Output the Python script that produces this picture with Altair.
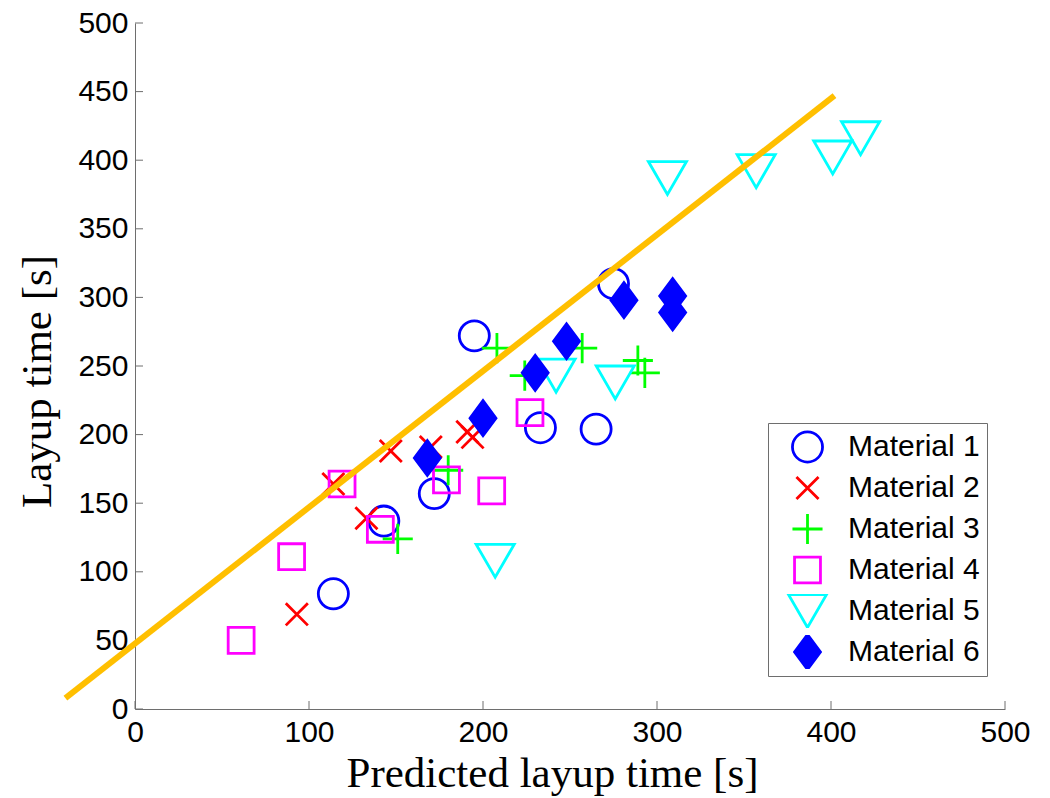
import altair as alt
import pandas as pd

materials = ["Material 1", "Material 2", "Material 3", "Material 4", "Material 5", "Material 6"]

m1_x = [114, 143, 172, 195, 233, 265, 275]
m1_y = [84, 137, 157, 272, 205, 204, 310]
m2_x = [93, 114, 133, 147, 170, 191, 194]
m2_y = [69, 164, 139, 188, 191, 202, 198]
m3_x = [151, 180, 208, 224, 257, 289, 293]
m3_y = [124, 174, 263, 243, 263, 254, 245]
m4_x = [61, 90, 119, 141, 179, 205, 227]
m4_y = [50, 111, 164, 131, 167, 159, 216]
m5_x = [207, 242, 276, 306, 357, 401, 417]
m5_y = [108, 243, 238, 387, 392, 402, 416]
m6_x = [168, 200, 230, 248, 281, 309, 309]
m6_y = [183, 212, 245, 268, 298, 301, 289]

fit_x = [-40, 402]
fit_y = [8, 447]

x_ticks = [0, 100, 200, 300, 400, 500]
y_ticks = [0, 50, 100, 150, 200, 250, 300, 350, 400, 450, 500]

rows = []
for name, xs_, ys_ in zip(materials, [m1_x, m2_x, m3_x, m4_x, m5_x, m6_x],
                          [m1_y, m2_y, m3_y, m4_y, m5_y, m6_y]):
    rows += [{"material": name, "x": a, "y": b} for a, b in zip(xs_, ys_)]
df = pd.DataFrame(rows)
fit_df = pd.DataFrame({"x": fit_x, "y": fit_y})

W, H = 870, 686
xsc = alt.Scale(domain=[0, 500], nice=False, zero=False)
ysc = alt.Scale(domain=[0, 500], nice=False, zero=False)

shapes = [
    "M-0.94,0A0.94,0.94,0,1,1,0.94,0A0.94,0.94,0,1,1,-0.94,0Z",
    "M-0.69,-0.69L0.69,0.69M-0.69,0.69L0.69,-0.69",
    "M-0.94,0L0.94,0M0,-0.94L0,0.94",
    "M-0.81,-0.81L0.81,-0.81L0.81,0.81L-0.81,0.81Z",
    "M-1.19,-1.03L1.19,-1.03L0,1.03Z",
    "M0,-1.09L0.81,0L0,1.09L-0.81,0Z",
]
colors = ["#0000ff", "#ff0000", "#00ff00", "#ff00ff", "#00ffff", "#0000ff"]
fills = ["transparent"] * 5 + ["#0000ff"]

legend = alt.Legend(
    title=None, orient="none", legendX=633, legendY=400,
    padding=7, symbolOffset=15, rowPadding=7, labelOffset=23, clipHeight=34,
    labelFont="Liberation Sans", labelFontSize=30, labelColor="black",
    symbolSize=1024, symbolStrokeWidth=2.8,
    strokeColor="#6e6e6e", fillColor="white",
)

points = alt.Chart(df).mark_point(filled=False, opacity=1, size=1024, strokeWidth=2.8).encode(
    x=alt.X("x:Q", scale=xsc, title="Predicted layup time [s]",
            axis=alt.Axis(values=x_ticks, titleX=417, titleY=77, titleBaseline="alphabetic",
                          labelFlush=False)),
    y=alt.Y("y:Q", scale=ysc, title="Layup time [s]",
            axis=alt.Axis(values=y_ticks, titleX=-85, titleY=358, titleBaseline="alphabetic",
                          labelFlush=False)),
    stroke=alt.Stroke("material:N", scale=alt.Scale(domain=materials, range=colors), legend=legend),
    fill=alt.Fill("material:N", scale=alt.Scale(domain=materials, range=fills), legend=legend),
    shape=alt.Shape("material:N", scale=alt.Scale(domain=materials, range=shapes), legend=legend),
)

line = alt.Chart(fit_df).mark_line(color="#ffbf00", strokeWidth=6, clip=False).encode(
    x=alt.X("x:Q", scale=xsc),
    y=alt.Y("y:Q", scale=ysc),
)

xt = alt.Chart(pd.DataFrame({"t": x_ticks})).mark_rule(color="#6e6e6e", strokeWidth=1).encode(
    x=alt.X("t:Q", scale=xsc), y=alt.value(H), y2=alt.value(H - 8)
)
yt = alt.Chart(pd.DataFrame({"t": y_ticks})).mark_rule(color="#6e6e6e", strokeWidth=1).encode(
    y=alt.Y("t:Q", scale=ysc), x=alt.value(0), x2=alt.value(8)
)

chart = alt.layer(xt, yt, points, line).properties(
    width=W, height=H,
    autosize=alt.AutoSizeParams(type="none"),
    padding={"left": 127, "top": 15, "right": 30, "bottom": 88},
).configure_view(stroke=None).configure_axis(
    grid=False, ticks=False, domainColor="#6e6e6e", domainWidth=1,
    labelFont="Liberation Sans", labelFontSize=30, labelColor="black",
    titleFont="Liberation Serif", titleFontSize=43, titleFontWeight="normal", titleColor="black",
).configure_axisX(labelPadding=8).configure_axisY(labelPadding=7)

chart.save("out.html", embed_options={"renderer": "svg", "actions": False})
